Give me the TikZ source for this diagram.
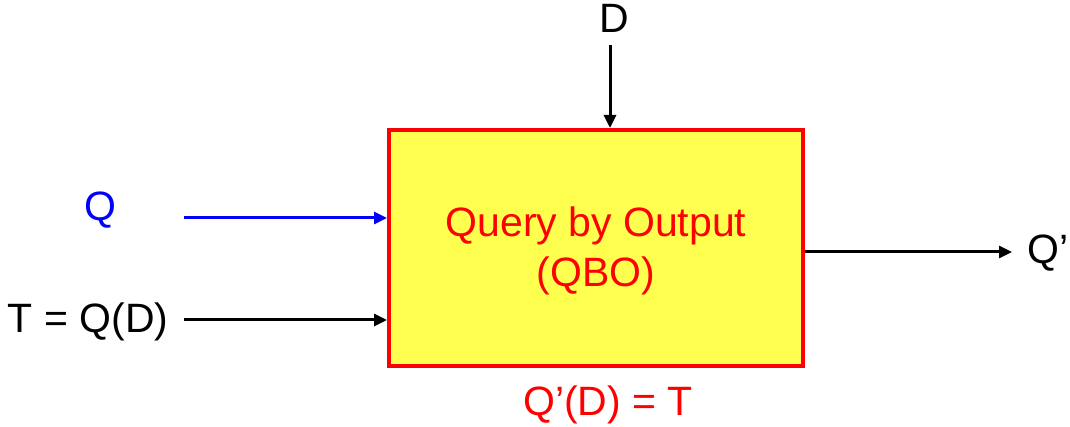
\documentclass[tikz,border=0pt]{standalone}
\usepackage{fontspec}
\setmainfont{Liberation Sans}
\usetikzlibrary{arrows.meta}
\definecolor{boxyellow}{RGB}{255,255,80}
\begin{document}
\begin{tikzpicture}[x=1pt,y=-1pt,
  lbl/.style={inner sep=0pt,anchor=base,font=\fontsize{41}{46}\selectfont},
  conn/.style={line width=3pt,-{Triangle[length=13pt,width=12pt]}},
  qbox/.style={draw=red,line width=4pt,fill=boxyellow,minimum width=414pt,minimum height=236pt,inner sep=0pt}]
\useasboundingbox (0,0) rectangle (1070,427);
\node[qbox] (box) at (596,248) {};
\node[lbl,text=red] (t1) at (596,237) {Query by Output};
\node[lbl,text=red] (t2) at (596,287) {(QBO)};
\node[lbl,text=red] (eq) at (608,415) {Q’(D) = T};
\node[lbl] (d) at (614,33) {D};
\node[lbl,text=blue] (q) at (100,221) {Q};
\node[lbl] (t) at (88,333) {T = Q(D)};
\node[lbl] (qp) at (1048,264) {Q’};
\coordinate (dtop) at (610,45);
\coordinate (qs) at (184,218);
\coordinate (ts) at (184,320);
\coordinate (oe) at (1012,252);
\draw[conn] (dtop) -- (box.north -| dtop);
\draw[conn,blue] (qs) -- (box.west |- qs);
\draw[conn] (ts) -- (box.west |- ts);
\draw[conn] (box.east |- oe) -- (oe);
\end{tikzpicture}
\end{document}
